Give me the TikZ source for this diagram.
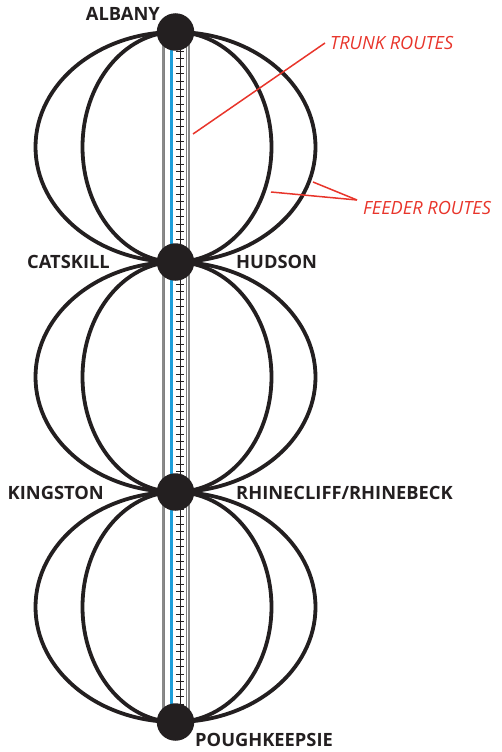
\documentclass[tikz,border=0pt]{standalone}
\usepackage{fontspec}
\setmainfont{Open Sans}
\usetikzlibrary{calc}
\pgfdeclarelayer{bg}
\pgfsetlayers{bg,main}
\definecolor{ink}{HTML}{231F20}
\definecolor{redlab}{HTML}{E8352B}
\definecolor{trunkblue}{HTML}{1E9FDA}
\definecolor{rail}{HTML}{8A8A8A}
\begin{document}
\begin{tikzpicture}[x=1pt,y=1pt,
  station/.style={circle,fill=ink,minimum size=37.5pt,inner sep=0pt},
  city/.style={font=\fontsize{18.3}{18.3}\selectfont\bfseries,text=ink,inner sep=0pt},
  note/.style={font=\fontsize{18.2}{18.2}\selectfont\itshape,text=redlab,inner sep=0pt},
  feeder/.style={line width=3.8pt,draw=ink},
  pointer/.style={draw=redlab,line width=1.5pt}]
\useasboundingbox (0,0) rectangle (501,-752);
\node[station] (A) at (175.5,-32) {};
\node[station] (C) at (175.5,-262) {};
\node[station] (K) at (175.5,-492) {};
\node[station] (P) at (175.5,-722) {};
\begin{pgfonlayer}{bg}
  % trunk routes
  \foreach \dx/\w/\c in {-13/2/rail, -10.8/0.8/gray, -4/2.3/trunkblue, 4.5/0.9/ink, 11/0.8/gray, 13.5/2/rail}
    \draw[line width=\w pt, draw=\c] ($(A.center)+(\dx,0)$) -- ($(P.center)+(\dx,0)$);
  \draw[line width=7.5pt, dash pattern=on 0.9pt off 6.6pt, draw=ink] ($(A.center)+(4.5,-4)$) -- ($(P.center)+(4.5,0)$);
  % feeder routes
  \foreach \u in {A,C,K} {
    \draw[feeder] (\u.center) arc[start angle=90,end angle=-90,x radius=140pt,y radius=115pt];
    \draw[feeder] (\u.center) arc[start angle=90,end angle=270,x radius=140pt,y radius=115pt];
    \draw[feeder] (\u.center) arc[start angle=90,end angle=-90,x radius=96pt,y radius=115pt];
    \draw[feeder] (\u.center) arc[start angle=90,end angle=270,x radius=93pt,y radius=115pt];
  }
\end{pgfonlayer}
\node[city,anchor=east] (albany) at (160,-14) {ALBANY};
\node[city,anchor=east] (catskill) at (110,-262) {CATSKILL};
\node[city,anchor=west] (hudson) at (236,-262) {HUDSON};
\node[city,anchor=east] (kingston) at (104,-493) {KINGSTON};
\node[city,anchor=west] (rhine) at (236,-493) {RHINECLIFF/RHINEBECK};
\node[city,anchor=west] (pough) at (195,-740) {POUGHKEEPSIE};
\node[note,anchor=west] (trunk) at (330,-43) {TRUNK ROUTES};
\node[note,anchor=west] (feed) at (363,-208) {FEEDER ROUTES};
\coordinate (t1) at (193,-134);
\coordinate (fj) at (357,-200);
\coordinate (f1) at (313,-182);
\coordinate (f2) at (271,-192);
\draw[pointer] ([xshift=-5pt]trunk.west) -- (t1);
\draw[pointer] (fj) -- (f1);
\draw[pointer] (fj) -- (f2);
\end{tikzpicture}
\end{document}
